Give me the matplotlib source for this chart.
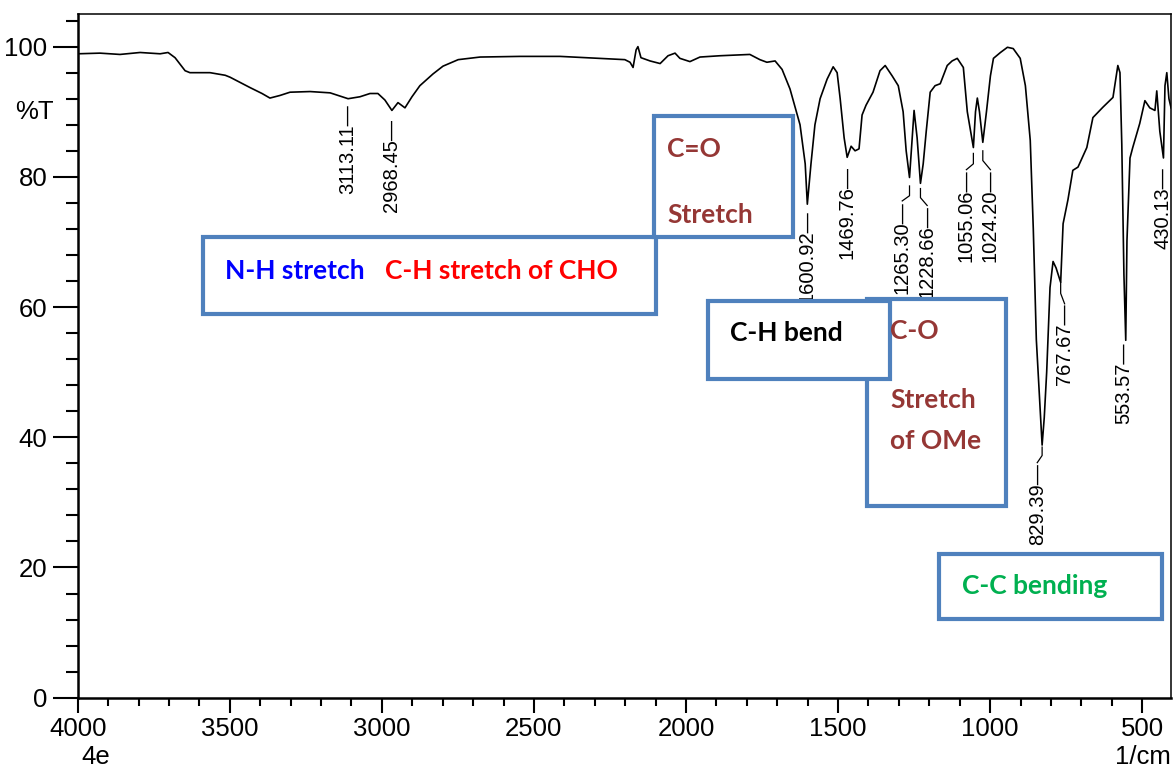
import matplotlib.pyplot as plt
from matplotlib.patches import Rectangle

# IR spectrum (wavenumber 1/cm, %T)
wavenumber = [4000, 3927, 3861, 3795, 3729, 3703, 3680, 3647, 3631, 3565, 3515, 3499,
              3466, 3433, 3394, 3368, 3335, 3302, 3236, 3170, 3111, 3072, 3039, 3013,
              2990, 2967, 2947, 2924, 2901, 2875, 2832, 2799, 2749, 2677, 2546, 2414,
              2283, 2201, 2184, 2174, 2164, 2158, 2148, 2118, 2085, 2059, 2036, 2020,
              1987, 1954, 1888, 1790, 1757, 1734, 1707, 1684, 1658, 1625, 1608, 1601,
              1589, 1576, 1559, 1536, 1516, 1503, 1493, 1480, 1470, 1457, 1444, 1431,
              1421, 1408, 1385, 1362, 1345, 1322, 1302, 1286, 1276, 1265, 1256, 1250,
              1240, 1229, 1220, 1210, 1197, 1181, 1164, 1141, 1125, 1108, 1088, 1075,
              1055, 1048, 1042, 1035, 1024, 1012, 999, 989, 966, 943, 924, 901,
              884, 868, 858, 848, 829, 822, 814, 803, 793, 783, 768, 760,
              744, 728, 711, 682, 662, 629, 596, 580, 573, 567, 560, 554,
              550, 540, 531, 508, 491, 475, 458, 452, 442, 430, 425, 419,
              412, 405]
transmittance = [98.9, 99.0, 98.8, 99.1, 98.9, 99.1, 98.3, 96.3, 96.0, 96.0, 95.6, 95.3,
                 94.5, 93.7, 92.8, 92.1, 92.5, 93.0, 93.1, 92.9, 92.0, 92.3, 92.8, 92.8,
                 91.8, 90.2, 91.4, 90.6, 92.3, 94.0, 95.8, 97.0, 98.0, 98.4, 98.5, 98.5,
                 98.2, 98.0, 97.6, 96.8, 99.5, 100.0, 98.3, 97.8, 97.4, 98.6, 99.0, 98.2,
                 97.7, 98.4, 98.6, 98.8, 98.0, 97.6, 97.8, 96.5, 93.5, 88.0, 82.0, 75.8,
                 82.0, 88.0, 92.0, 95.0, 96.9, 96.0, 92.0, 86.0, 83.0, 84.7, 84.0, 84.3,
                 89.5, 91.0, 93.0, 96.3, 97.1, 95.5, 94.0, 90.0, 84.0, 79.9, 86.0, 90.2,
                 86.0, 79.0, 82.0, 87.0, 93.0, 94.0, 94.3, 97.1, 97.8, 98.2, 96.8, 90.0,
                 84.5, 90.0, 92.1, 90.0, 85.3, 90.0, 95.5, 98.2, 99.1, 99.9, 99.7, 98.2,
                 94.0, 85.6, 72.0, 55.0, 38.8, 43.0, 50.0, 63.0, 67.0, 66.0, 63.8, 72.8,
                 76.5, 81.0, 81.5, 84.5, 89.1, 90.7, 92.2, 97.1, 96.0, 85.0, 65.0, 54.9,
                 70.2, 82.9, 84.5, 88.2, 91.7, 90.6, 90.2, 93.2, 87.0, 82.9, 94.0, 96.0,
                 92.0, 90.6]

# peak labels: text, peak position, label x, label top
peak_text = ['3113.11', '2968.45', '1600.92', '1469.76', '1265.30', '1228.66',
             '1055.06', '1024.20', '829.39', '767.67', '553.57', '430.13']
peak_pos = [3113, 2968, 1601, 1470, 1265, 1229, 1055, 1024, 829, 768, 554, 430]
label_x = [3113, 2968, 1601, 1470, 1289, 1207, 1078, 999, 845, 755, 560, 431]
label_top = [91.1, 88.9, 74.8, 81.7, 76.3, 75.6, 81.1, 81.1, 36.1, 60.5, 54.6, 81.4]
# bent leader lines: (start %T, bend %T) for labels moved off the peak
leader = {'1265.30': (78.6, 77.1), '1228.66': (78.2, 76.8), '1055.06': (83.6, 82.0),
          '1024.20': (84.0, 82.5), '829.39': (38.5, 37.2), '767.67': (63.8, 62.1)}

box_color = '#4F81BD'
fig = plt.figure(figsize=(11.76, 7.69), dpi=100)
ax = fig.add_axes([0.0661, 0.0927, 0.9297, 0.889])

ax.plot(wavenumber, transmittance, color='black', lw=1.2)
ax.set_xlim(4000, 405)
ax.set_ylim(0, 105)

ax.set_xticks(range(500, 4001, 500))
ax.set_xticks(range(500, 4001, 100), minor=True)
ax.set_yticks(range(0, 101, 20))
ax.set_yticks(range(0, 105, 4), minor=True)
tickfont = {'family': 'Liberation Sans', 'size': 18.5}
ax.set_xticklabels([str(v) for v in range(500, 4001, 500)], fontdict=tickfont)
ax.set_yticklabels([str(v) for v in range(0, 101, 20)], fontdict=tickfont)
ax.tick_params(axis='y', which='major', length=18, width=1.5, pad=4)
ax.tick_params(axis='y', which='minor', length=9, width=1.5)
ax.tick_params(axis='x', which='major', length=11, width=1.5, pad=3)
ax.tick_params(axis='x', which='minor', length=6, width=1.5)
for side in ['left', 'bottom']:
    ax.spines[side].set_linewidth(1.8)
for side in ['top', 'right']:
    ax.spines[side].set_linewidth(1.1)

fig.text(0.0128, 0.854, '%T', fontdict=tickfont, va='center', ha='left')
fig.text(0.081, 0.016, '4e', fontdict=tickfont, va='center', ha='center')
fig.text(0.996, 0.015, '1/cm', fontdict=tickfont, va='center', ha='right')

for txt, xp, xt, yt in zip(peak_text, peak_pos, label_x, label_top):
    if txt in leader:
        y0, y1 = leader[txt]
        ax.plot([xp, xp, xt], [y0, y1, yt], color='black', lw=0.9)
    ax.text(xt, yt, txt + '\u2014', rotation=90, ha='center', va='top',
            family='Liberation Sans', fontsize=14.5)

# annotation boxes (x0, x1, y0, y1 in data units), drawn in this order
boxes = [(3588, 2098, 58.9, 70.8), (2105, 1648, 70.8, 89.4),
         (1404, 947, 29.4, 61.2), (1927, 1329, 48.9, 61.0),
         (1168, 434, 12.1, 22.0)]
for x0, x1, y0, y1 in boxes:
    ax.add_patch(Rectangle((x0, y0), x1 - x0, y1 - y0, facecolor='white',
                           edgecolor=box_color, lw=3, zorder=3))

notes = [('N-H stretch', 3515, 65.6, '#0000FF'),
         ('C-H stretch of CHO', 2989, 65.6, '#FF0000'),
         ('C=O', 2062, 84.3, '#953735'),
         ('Stretch', 2062, 74.2, '#953735'),
         ('C-H bend', 1855, 56.0, 'black'),
         ('C-O', 1329, 56.3, '#953735'),
         ('Stretch', 1329, 45.7, '#953735'),
         ('of OMe', 1329, 39.4, '#953735'),
         ('C-C bending', 1092, 17.1, '#00B050')]
for txt, x, y, c in notes:
    ax.text(x, y, txt, color=c, family='Lato', fontweight='bold', fontsize=19,
            ha='left', va='center', zorder=4)

fig.savefig('out.png', dpi=100)
